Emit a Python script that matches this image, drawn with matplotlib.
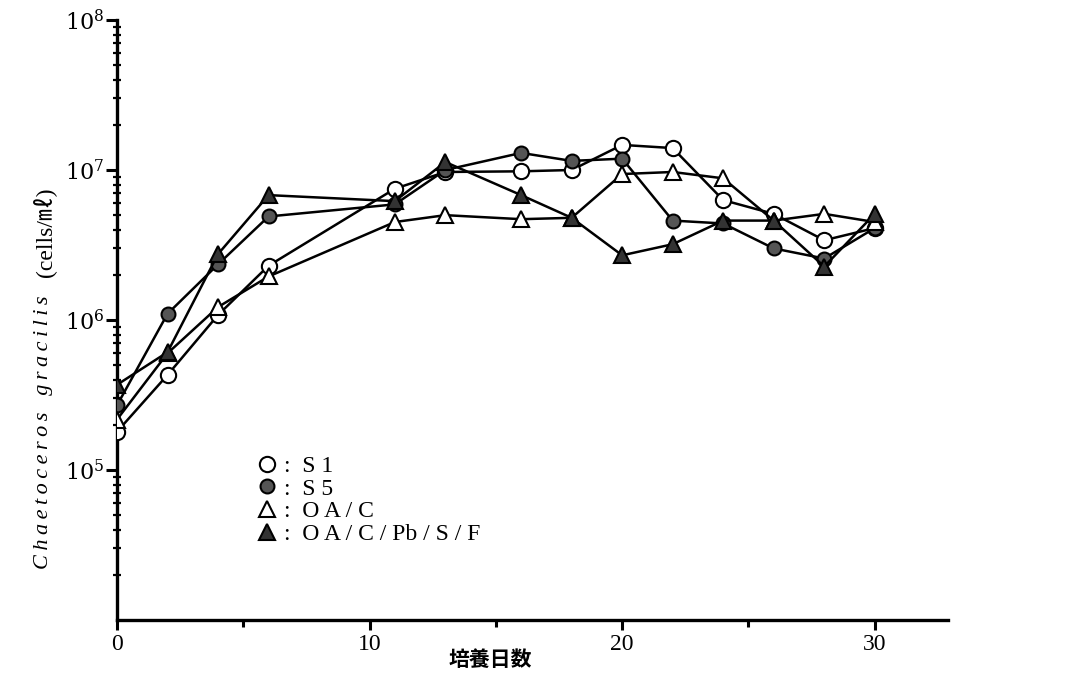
import matplotlib
matplotlib.use("Agg")
import matplotlib.pyplot as plt
from matplotlib.ticker import LogLocator, FixedLocator, NullFormatter

# ---- data ----
days = [0, 2, 4, 6, 11, 13, 16, 18, 20, 22, 24, 26, 28, 30]
s1 = [1.8e5, 4.3e5, 1.08e6, 2.3e6, 7.5e6, 9.7e6, 9.8e6, 1.0e7, 1.47e7, 1.4e7, 6.3e6, 5.1e6, 3.4e6, 4.1e6]
s5 = [2.7e5, 1.1e6, 2.35e6, 4.9e6, 5.9e6, 1.0e7, 1.3e7, 1.15e7, 1.19e7, 4.6e6, 4.4e6, 3.0e6, 2.57e6, 4.1e6]
oac = [2.17e5, 6.0e5, 1.22e6, 1.95e6, 4.5e6, 5.0e6, 4.7e6, 4.8e6, 9.4e6, 9.7e6, 8.8e6, 4.6e6, 5.1e6, 4.5e6]
oacpb = [3.7e5, 6.1e5, 2.75e6, 6.8e6, 6.2e6, 1.13e7, 6.8e6, 4.8e6, 2.7e6, 3.2e6, 4.6e6, 4.6e6, 2.27e6, 5.1e6]

labels = [":  S 1", ":  S 5", ":  O A / C", ":  O A / C / Pb / S / F"]
x_major = [0, 10, 20, 30]
x_minor = [5, 15, 25]
y_major = [1e5, 1e6, 1e7, 1e8]
y_labels = ["$10^{5}$", "$10^{6}$", "$10^{7}$", "$10^{8}$"]

plt.rcParams['mathtext.fontset'] = 'dejavuserif'
fig = plt.figure(figsize=(10.66, 6.76), dpi=100)
ax = fig.add_axes([117/1066, 1-620/676, (948-117)/1066, (620-20)/676])

styles = [
    dict(marker='o', mfc='white', mec='black', ms=11),
    dict(marker='o', mfc='#555555', mec='black', ms=10),
    dict(marker='^', mfc='white', mec='black', ms=12),
    dict(marker='^', mfc='#333333', mec='black', ms=11),
]
handles = []
for ys, st, lab in zip([s1, s5, oac, oacpb], styles, labels):
    ax.plot(days, ys, color='black', lw=1.8, mew=1.5, zorder=3, **st)
    h, = ax.plot([], [], ls='none', mew=1.5, **st)
    handles.append(h)

ax.set_yscale('log')
ax.set_ylim(1e4, 1e8)
ax.set_xlim(0, 32.9)

for s in ['top', 'right']:
    ax.spines[s].set_visible(False)
for s in ['left', 'bottom']:
    ax.spines[s].set_linewidth(2.4)

ax.yaxis.set_major_locator(FixedLocator(y_major))
ax.set_yticklabels(y_labels)
ax.yaxis.set_minor_locator(LogLocator(base=10, subs=range(2, 10)))
ax.yaxis.set_minor_formatter(NullFormatter())
ax.tick_params(axis='y', which='major', direction='out', length=8, width=2.2, labelsize=16, pad=1)
ax.tick_params(axis='y', which='minor', direction='inout', length=6, width=1.6)

ax.xaxis.set_major_locator(FixedLocator(x_major))
ax.xaxis.set_minor_locator(FixedLocator(x_minor))
ax.set_xticklabels([str(v) for v in x_major])
ax.tick_params(axis='x', which='major', direction='out', length=7, width=2.2, labelsize=17, pad=3)
ax.tick_params(axis='x', which='minor', direction='out', length=5, width=2.2)
for t in ax.get_xticklabels() + ax.get_yticklabels():
    t.set_family(['Liberation Serif', 'DejaVu Serif'])

leg = ax.legend(handles, labels, loc='upper left', bbox_to_anchor=(0.155, 0.29),
                frameon=False, handlelength=1.0, handletextpad=0.2, labelspacing=0.05,
                borderaxespad=0, prop={'family': ['Liberation Serif', 'DejaVu Serif'], 'size': 17})

fig.text(490/1066, 1-660/676, "培養日数", ha='center', va='center',
         family=['Noto Sans CJK JP', 'DejaVu Sans'], fontsize=15, fontweight='bold')
fig.text(44/1066, 1-432/676, "C\u2009h\u2009a\u2009e\u2009t\u2009o\u2009c\u2009e\u2009r\u2009o\u2009s   g\u2009r\u2009a\u2009c\u2009i\u2009l\u2009i\u2009s",
         rotation=90, ha='center', va='center',
         family=['Liberation Serif', 'DejaVu Serif'], style='italic', fontsize=16)
fig.text(44/1066, 1-232/676, "(cells/㎖)", rotation=90, ha='center', va='center',
         family=['Liberation Serif', 'Noto Sans CJK JP', 'DejaVu Serif'], fontsize=17)

fig.savefig('out.png', dpi=100)
